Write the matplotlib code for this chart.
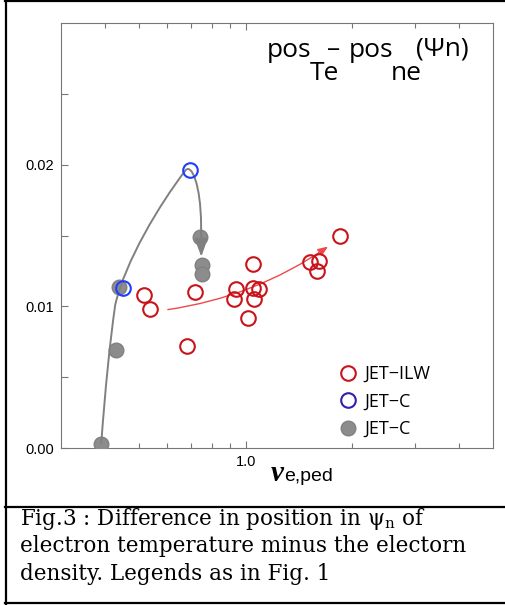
import matplotlib.pyplot as plt
from matplotlib.lines import Line2D
from matplotlib.patches import FancyArrowPatch
from matplotlib.path import Path

# JET-ILW (open red circles)
ilw_nu = [0.516, 0.536, 0.720, 0.683, 0.937, 0.925, 1.049, 1.049, 1.091, 1.054,
          1.015, 1.519, 1.605, 1.594, 1.849]
ilw_dpsi = [0.0108, 0.0098, 0.0110, 0.0072, 0.0112, 0.0105, 0.0130, 0.0113,
            0.0112, 0.0105, 0.0092, 0.0131, 0.0132, 0.0125, 0.0150]

# JET-C (open blue circles)
jetc_nu = [0.696, 0.450]
jetc_dpsi = [0.0196, 0.0113]

# JET-C (filled grey circles)
jetc2_nu = [0.389, 0.429, 0.437, 0.740, 0.751, 0.753]
jetc2_dpsi = [0.0003, 0.0069, 0.0114, 0.0149, 0.0129, 0.0123]

# hand drawn trend curves (bezier vertices in data units)
grey_trend_nu = [0.390, 0.4055, 0.427, 0.456, 0.570, 0.675, 0.702, 0.745, 0.747, 0.748]
grey_trend_dpsi = [0.00035, 0.0062, 0.0101, 0.0132, 0.0172, 0.0196, 0.0201, 0.0186,
                   0.0158, 0.0135]
grey_codes = [Path.MOVETO, Path.CURVE3, Path.CURVE3, Path.CURVE4, Path.CURVE4,
              Path.CURVE4, Path.CURVE4, Path.CURVE4, Path.CURVE4, Path.LINETO]
red_trend = [(0.591, 0.00974), (1.733, 0.01433)]

x_minor = [0.4, 0.5, 0.6, 0.7, 0.8, 0.9, 2, 3, 4]
y_major = [0.0, 0.01, 0.02]
y_minor = [0.005, 0.015, 0.025]
legend_labels = ["JET\u2212ILW", "JET\u2212C", "JET\u2212C"]

RED = "#c8141a"
BLUE = "#1f3cff"
GREY = "#8c8c8c"

W, H = 506, 605
fig = plt.figure(figsize=(W / 100, H / 100), dpi=100)


def fx(px):
    return px / W


def fy(py):
    return 1 - py / H


ax = fig.add_axes([fx(61), fy(448), (493 - 61) / W, (448 - 23) / H])
ax.set_xscale("log")
ax.set_xlim(0.3, 5)
ax.set_ylim(0, 0.03)

grey_path = Path(list(zip(grey_trend_nu, grey_trend_dpsi)), grey_codes)
ax.add_patch(FancyArrowPatch(path=grey_path, mutation_scale=20,
                             arrowstyle="-|>,head_length=0.55,head_width=0.2",
                             color="#808080", lw=1.4, zorder=4))
ax.add_patch(FancyArrowPatch(red_trend[0], red_trend[1], mutation_scale=20,
                             connectionstyle="arc3,rad=0.12",
                             arrowstyle="-|>,head_length=0.3,head_width=0.12",
                             color="#f04848", lw=1.0, zorder=2))

ax.plot(jetc2_nu, jetc2_dpsi, ls="none", marker="o", ms=10.5, mfc=GREY,
        mec="#808080", mew=1.0, zorder=3)
ax.plot(ilw_nu, ilw_dpsi, ls="none", marker="o", ms=10.5, mfc="none",
        mec=RED, mew=1.5, zorder=4)
ax.plot(jetc_nu, jetc_dpsi, ls="none", marker="o", ms=10.5, mfc="none",
        mec=BLUE, mew=1.5, zorder=5)

ax.set_xticks([1.0])
ax.set_xticklabels(["1.0"])
ax.set_xticks(x_minor, minor=True)
ax.set_xticklabels([], minor=True)
ax.set_yticks(y_major)
ax.set_yticklabels(["0.00", "0.01", "0.02"])
ax.set_yticks(y_minor, minor=True)
ax.tick_params(which="both", direction="in", top=True, right=False,
               color="#777777", width=0.8, labelsize=10.5, pad=5)
ax.tick_params(axis="x", which="major", length=5)
ax.tick_params(axis="x", which="minor", length=3.5)
ax.tick_params(axis="y", which="both", length=5)
for lab in ax.get_xticklabels() + ax.get_yticklabels():
    lab.set_family("Liberation Sans")
for sp in ax.spines.values():
    sp.set_color("#777777")
    sp.set_linewidth(0.8)

handles = [
    Line2D([], [], ls="none", marker="o", ms=10.5, mfc="none", mec=RED, mew=1.5),
    Line2D([], [], ls="none", marker="o", ms=10.5, mfc="none", mec="#3020b0", mew=1.5),
    Line2D([], [], ls="none", marker="o", ms=10.5, mfc=GREY, mec="#808080", mew=1.0),
]
ax.legend(handles, legend_labels, loc="upper left",
          bbox_to_anchor=(fx(337), fy(365)), bbox_transform=fig.transFigure,
          frameon=False, borderpad=0, borderaxespad=0, handlelength=1.2,
          handletextpad=0.3, labelspacing=0.53,
          prop=dict(family=["Open Sans", "DejaVu Sans"], size=13))

# title made of pieces: pos_Te - pos_ne (Psi n)
tfont = dict(family=["Open Sans", "DejaVu Sans"], size=19, va="baseline")
fig.text(fx(267), fy(57), "pos", **tfont)
fig.text(fx(310), fy(80), "Te", **tfont)
fig.text(fx(327), fy(56), "\u2013", **tfont)
fig.text(fx(349), fy(57), "pos", **tfont)
fig.text(fx(391), fy(80), "ne", **tfont)
fig.text(fx(416), fy(56), "(\u03a8n)", **tfont)

# x label
fig.text(fx(271), fy(481), "\u03bd", family="Liberation Serif", weight="bold",
         style="italic", size=21, va="baseline")
fig.text(fx(284), fy(481), "e,ped", family="Liberation Sans", size=14,
         va="baseline")

# outer frame
for xs, ys in [((5, W), (1, 1)), ((6, 6), (0, 604)), ((5, W), (507, 507)),
               ((5, W), (603, 603))]:
    fig.add_artist(Line2D([fx(x) for x in xs], [fy(y) for y in ys],
                          color="black", lw=1.6, transform=fig.transFigure))

plt.rcParams["mathtext.fontset"] = "custom"
plt.rcParams["mathtext.rm"] = "DejaVu Serif"
cfont = dict(family="DejaVu Serif", size=15.5, va="baseline")
fig.text(fx(20), fy(525), "Fig.3 : Difference in position in \u03c8${}_\\mathrm{n}$ of", **cfont)
fig.text(fx(20), fy(552), "electron temperature minus the electorn", **cfont)
fig.text(fx(20), fy(580), "density. Legends as in Fig. 1", **cfont)

fig.savefig("out.png", dpi=100)
